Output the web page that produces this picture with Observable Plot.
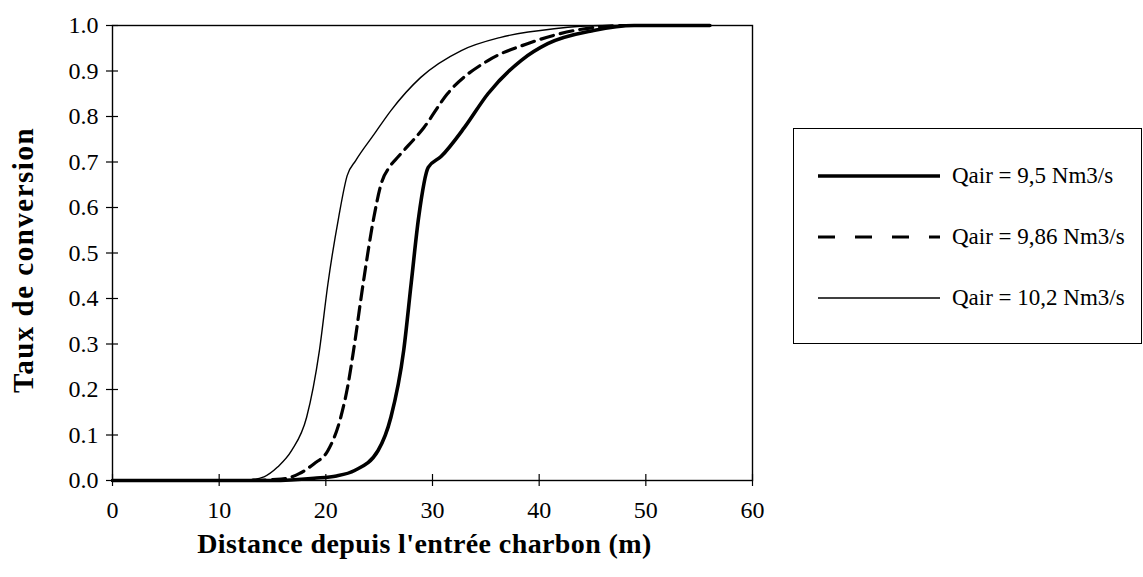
<!DOCTYPE html>
<html>
<head>
<meta charset="utf-8">
<script src="https://cdn.jsdelivr.net/npm/d3@7"></script>
<script src="https://cdn.jsdelivr.net/npm/@observablehq/plot@0.6"></script>
<style>
  html, body { margin: 0; padding: 0; background: #fff; }
  #wrap { position: relative; width: 1143px; height: 577px; font-family: "Liberation Serif", "Times New Roman", serif; }
  #legend { position: absolute; left: 793px; top: 128px; width: 349px; height: 216px; border: 1px solid #000; box-sizing: border-box; background: #fff; }
  .entry { position: absolute; left: 24px; height: 26px; display: flex; align-items: center; font-family: "Liberation Serif", "Times New Roman", serif; font-size: 23px; color: #000; white-space: nowrap; }
  .entry svg { display: block; margin-right: 10px; }
  #ytitle { position: absolute; left: 23px; top: 260px; transform: translate(-50%, -50%) rotate(-90deg); font-family: "Liberation Serif", "Times New Roman", serif; font-weight: bold; font-size: 29px; letter-spacing: 1.5px; white-space: nowrap; color: #000; }
</style>
</head>
<body>
<div id="wrap">
  <div id="chart"></div>
  <div id="ytitle"></div>
  <div id="legend"></div>
</div>
<script>
// Series labels
const seriesLabels = ["Qair = 9,5 Nm3/s", "Qair = 9,86 Nm3/s", "Qair = 10,2 Nm3/s"];

// Qair = 9,5 Nm3/s (thick solid)
const x95 = [0, 15, 18.9, 21, 22.7, 24.9, 26.1, 27.3, 28.0, 28.7, 29.6, 30.8, 33.0, 35.2, 38.3, 40.8, 45.1, 48.9, 56];
const y95 = [0, 0, 0.005, 0.01, 0.022, 0.066, 0.139, 0.286, 0.433, 0.578, 0.688, 0.712, 0.776, 0.85, 0.923, 0.96, 0.989, 1.0, 1.0];

// Qair = 9,86 Nm3/s (dashed)
const x986 = [0, 12, 15.8, 17.5, 18.9, 20.2, 21.4, 22.1, 22.6, 23.5, 24.5, 25.2, 26.0, 26.8, 29.2, 31.4, 35.2, 38.9, 43.3, 48, 56];
const y986 = [0, 0, 0.003, 0.015, 0.037, 0.066, 0.139, 0.213, 0.286, 0.433, 0.578, 0.653, 0.69, 0.712, 0.776, 0.85, 0.923, 0.96, 0.989, 1.0, 1.0];

// Qair = 10,2 Nm3/s (thin solid)
const x102 = [0, 10, 13, 14.2, 15.5, 16.8, 18.2, 19.4, 20.2, 21.2, 22.0, 22.8, 24.5, 26.1, 28.9, 32.7, 36.4, 41.4, 46, 56];
const y102 = [0, 0, 0.002, 0.008, 0.03, 0.066, 0.139, 0.286, 0.433, 0.578, 0.67, 0.703, 0.76, 0.813, 0.886, 0.945, 0.974, 0.993, 1.0, 1.0];

const xTicks = [0, 10, 20, 30, 40, 50, 60];
const yTicks = [0, 0.1, 0.2, 0.3, 0.4, 0.5, 0.6, 0.7, 0.8, 0.9, 1.0];
const xTitle = "Distance depuis l'entrée charbon (m)";
const yTitle = "Taux de conversion";

const toRows = (xs, ys, s) => xs.map((x, i) => ({x, y: ys[i], s}));
const d95 = toRows(x95, y95, seriesLabels[0]);
const d986 = toRows(x986, y986, seriesLabels[1]);
const d102 = toRows(x102, y102, seriesLabels[2]);

const styles = [
  {strokeWidth: 3.6, dash: null, legendDash: null},
  {strokeWidth: 3.2, dash: "13,7", legendDash: "17,20"},
  {strokeWidth: 1.4, dash: null, legendDash: null}
];

const font = '"Liberation Serif", "Times New Roman", serif';

const chart = Plot.plot({
  width: 1143,
  height: 577,
  marginLeft: 112,
  marginRight: 391,
  marginTop: 25,
  marginBottom: 97,
  style: {fontFamily: font, fontSize: "24px", color: "#000", background: "#fff"},
  x: {domain: [0, 60]},
  y: {domain: [0, 1]},
  marks: [
    Plot.frame({stroke: "#000", strokeWidth: 1.4}),
    Plot.axisX({ticks: xTicks, tickSize: 12, dy: -6, tickFormat: () => "", label: null, strokeWidth: 1.2}),
    Plot.axisX({ticks: xTicks, tickSize: 0, tickPadding: 20, tickFormat: d => String(d), label: null, fontSize: 24, fontFamily: font}),
    Plot.axisY({ticks: yTicks, tickSize: 12, dx: 6, tickFormat: () => "", label: null, strokeWidth: 1.2}),
    Plot.axisY({ticks: yTicks, tickSize: 0, tickPadding: 14, tickFormat: d => d.toFixed(1), label: null, fontSize: 24, fontFamily: font}),
    Plot.line(d102, {x: "x", y: "y", stroke: "#000", strokeWidth: styles[2].strokeWidth, curve: "monotone-x"}),
    Plot.line(d986, {x: "x", y: "y", stroke: "#000", strokeWidth: styles[1].strokeWidth, strokeDasharray: styles[1].dash, curve: "monotone-x"}),
    Plot.line(d95, {x: "x", y: "y", stroke: "#000", strokeWidth: styles[0].strokeWidth, curve: "monotone-x"}),
    Plot.text([xTitle], {frameAnchor: "bottom", textAnchor: "middle", dy: 72, dx: -8, fontSize: 28, fontWeight: "bold", fill: "#000", fontFamily: font})
  ]
});
document.getElementById("chart").appendChild(chart);
chart.querySelectorAll("text").forEach(t => {
  if (t.textContent === xTitle) t.setAttribute("letter-spacing", "0.4");
});
document.getElementById("ytitle").textContent = yTitle;

// Legend
const legend = document.getElementById("legend");
const entryCenters = [47, 108, 169];
seriesLabels.forEach((lab, i) => {
  const e = document.createElement("div");
  e.className = "entry";
  e.style.top = (entryCenters[i] - 13) + "px";
  const svg = d3.create("svg").attr("width", 124).attr("height", 26);
  svg.append("line").attr("x1", 0).attr("x2", 122).attr("y1", 13).attr("y2", 13)
    .attr("stroke", "#000").attr("stroke-width", styles[i].strokeWidth)
    .attr("stroke-dasharray", styles[i].legendDash);
  e.appendChild(svg.node());
  const t = document.createElement("span");
  t.textContent = lab;
  e.appendChild(t);
  legend.appendChild(e);
});
</script>
</body>
</html>
